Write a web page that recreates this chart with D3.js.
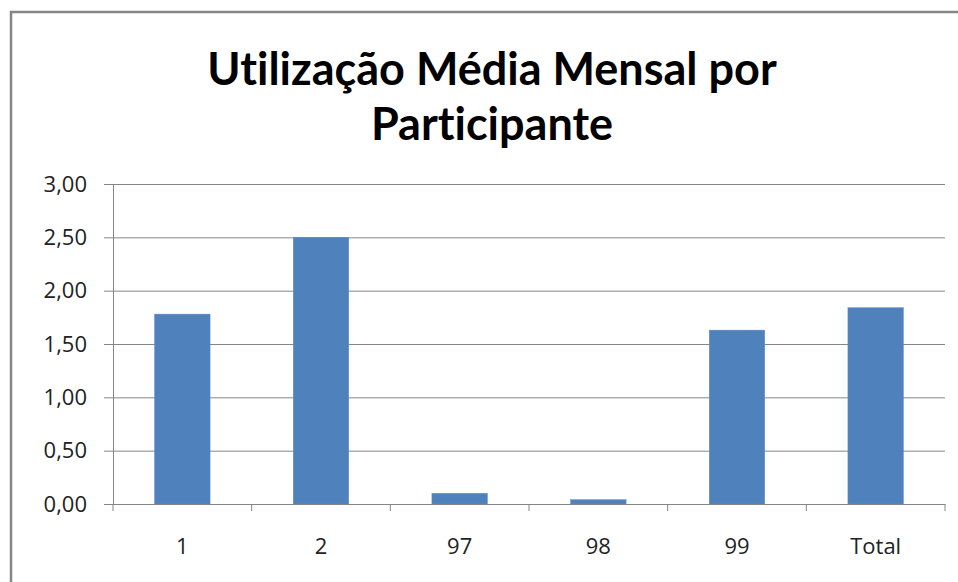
<!DOCTYPE html>
<html>
  <head>
    <meta charset="utf-8">
    <title></title>
    <script src="https://cdnjs.cloudflare.com/ajax/libs/d3/7.8.5/d3.min.js"></script>
    <style>
      body { margin: 0; background: #fff; }
    </style>
  </head>
  <body>
    <script type="text/javascript">

    let categories = ["1", "2", "97", "98", "99", "Total"]
    let values = [1.78, 2.50, 0.10, 0.04, 1.63, 1.84]
    let yTicks = [0, 0.5, 1, 1.5, 2, 2.5, 3]
    let titleLines = ["Utilização Média Mensal por", "Participante"]

    let outerWidth = 958;
    let outerHeight = 582;
    let margin = { left: 113, top: 184, right: 13, bottom: 78 }

    let svg = d3.select("body").append("svg")
      .attr("width", outerWidth)
      .attr("height", outerHeight)

    // chart frame, cut off at right and bottom
    svg.append("path")
      .attr("d", "M11," + outerHeight + "V12H" + outerWidth)
      .attr("fill", "none")
      .attr("stroke", "#868686")
      .attr("stroke-width", 2.5)

    svg.selectAll("text.title")
      .data(titleLines)
      .enter().append("text")
      .attr("class", "title")
      .attr("x", 492)
      .attr("y", function(d, i) { return 85 + i * 55; })
      .attr("text-anchor", "middle")
      .style("font-family", "Lato, 'Open Sans', sans-serif")
      .style("font-weight", "bold")
      .style("font-size", "45px")
      .style("font-variant-ligatures", "none")
      .style("fill", "#000")
      .text(function(d) { return d; })

    let innerWidth = outerWidth - margin.left - margin.right;
    let innerHeight = outerHeight - margin.top - margin.bottom;

    let g = svg.append("g")
      .attr("transform", "translate(" + margin.left + "," + margin.top + ")");

    let xScale = d3.scaleBand().domain(categories).range([0, innerWidth])
      .paddingInner(0.6).paddingOuter(0.3);
    let yScale = d3.scaleLinear().domain([0, 3]).range([innerHeight, 0]);

    let fmt = function(d) { return d3.format(".2f")(d).replace(".", ","); };

    // gridlines + y axis
    let yAxis = g.append("g")
      .call(d3.axisLeft(yScale).tickValues(yTicks).tickFormat(fmt)
        .tickSize(-innerWidth).tickSizeOuter(0).tickPadding(26))
    yAxis.select(".domain").attr("stroke", "#868686")
    yAxis.selectAll(".tick line").attr("stroke", "#868686")
      .attr("x1", -9)
    yAxis.selectAll(".tick text")
      .style("font-family", "'Open Sans', sans-serif")
      .style("font-size", "22px")
      .style("fill", "#222")

    // bars
    g.selectAll("rect.bar")
      .data(values)
      .enter().append("rect")
      .attr("class", "bar")
      .attr("x", function(d, i) { return xScale(categories[i]); })
      .attr("y", function(d) { return yScale(d); })
      .attr("width", xScale.bandwidth())
      .attr("height", function(d) { return innerHeight - yScale(d); })
      .attr("fill", "#4f81bd")
      .attr("stroke", "#5a8ac6")
      .attr("stroke-width", 0.5)

    // x axis
    let step = xScale.step();
    let xAxis = g.append("g")
      .attr("transform", "translate(0," + innerHeight + ")")
      .call(d3.axisBottom(xScale).tickSize(0).tickPadding(34))
    xAxis.select(".domain").attr("stroke", "#868686")
    xAxis.selectAll(".tick text")
      .style("font-family", "'Open Sans', sans-serif")
      .style("font-size", "22px")
      .style("fill", "#222")

    // category boundary ticks
    xAxis.selectAll("line.sep")
      .data(d3.range(categories.length + 1))
      .enter().append("line")
      .attr("class", "sep")
      .attr("x1", function(d) { return d * step; })
      .attr("x2", function(d) { return d * step; })
      .attr("y1", 0).attr("y2", 7)
      .attr("stroke", "#868686")

    </script>
  </body>
</html>
